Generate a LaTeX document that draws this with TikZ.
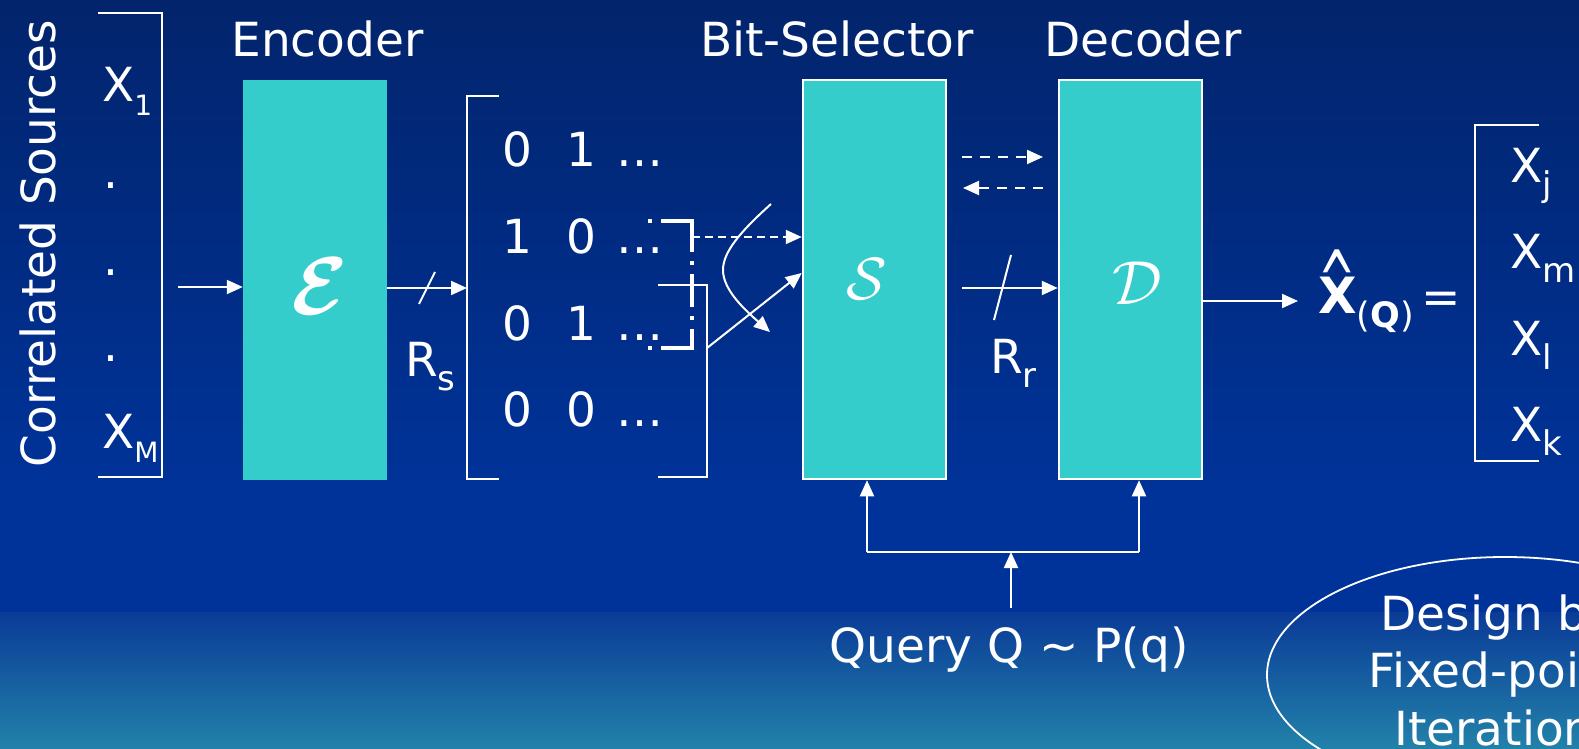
\documentclass[tikz,border=0pt]{standalone}
\usepackage{fontspec}
\setmainfont{DejaVu Sans}
\usepackage{amsmath,bm}
\usepackage{graphicx}
\usetikzlibrary{arrows.meta,calc}

\definecolor{navytop}{HTML}{02246C}
\definecolor{bluemid}{HTML}{003399}
\definecolor{bluelow}{HTML}{0A3B97}
\definecolor{tealbot}{HTML}{2282AA}
\definecolor{blockteal}{HTML}{35CCCC}

% lowered subscript: #1 = size in pt, #2 = text
\newcommand{\lowsub}[2]{\raisebox{-14pt}{\fontsize{#1}{#1}\selectfont #2}}

\begin{document}
\begin{tikzpicture}[x=1pt,y=-1pt,
  lbl/.style={text=white,inner sep=0pt,font=\fontsize{47}{56}\selectfont},
  blockfill/.style={fill=blockteal,inner sep=0pt,minimum width=144pt,minimum height=400pt},
  framed/.style={fill=blockteal,draw=white,line width=2.5pt,inner sep=0pt,
                 minimum width=143pt,minimum height=399pt},
  wire/.style={draw=white,line width=2pt},
  arr/.style={wire,-{Triangle[length=16pt,width=14pt]}},
  fbarr/.style={arr,dash pattern=on 10pt off 8pt},
  selarr/.style={arr,dash pattern=on 8pt off 5pt},
  dashdot/.style={draw=white,line width=4pt,dash pattern=on 33pt off 9pt on 4pt off 9pt}
]
\useasboundingbox (0,0) rectangle (1579,749);
\clip (0,0) rectangle (1579,749);

% background
\fill[top color=navytop,bottom color=bluemid] (0,0) rectangle (1579,490);
\fill[bluemid] (0,489) rectangle (1579,613);
\fill[top color=bluelow,bottom color=tealbot] (0,612) rectangle (1579,749);

% sources
\node[lbl,rotate=90,anchor=base] (corr) at (55,243.5) {Correlated Sources};
\draw[wire] (98,13) -- (162,13) -- (162,477) -- (98,477);
\node[lbl,anchor=base west] (x1) at (102,102) {X\lowsub{28}{1}};
\node[lbl,anchor=base] (d1) at (111,188) {.};
\node[lbl,anchor=base] (d2) at (111,275) {.};
\node[lbl,anchor=base] (d3) at (111,361) {.};
\node[lbl,anchor=base west] (xM) at (102,448) {X\lowsub{28}{M}};

% encoder
\node[lbl,anchor=base] (enctitle) at (327.5,57) {Encoder};
\node[blockfill] (enc) at (315,280) {};
\node[lbl] (encsym) at (320,286) {\scalebox{3.3}{\Huge$\bm{\mathcal{E}}$}};
\coordinate (srcOut) at (178,287);
\draw[arr] (srcOut) -- (srcOut -| enc.west);

% bit matrix
\coordinate (matL) at (467,288);
\draw[arr] (matL -| enc.east) -- (matL);
\draw[wire] (435,272) -- (419,304);
\node[lbl,anchor=base west] (rs) at (405,376) {R\lowsub{34}{s}};
\draw[wire] (499,96) -- (467,96) -- (467,479) -- (499,479);
\foreach \r/\a/\b/\y in {1/0/1/166, 2/1/0/253, 3/0/1/340, 4/0/0/426}{
  \node[lbl,anchor=base] (m\r a) at (517,\y) {\a};
  \node[lbl,anchor=base] (m\r b) at (581,\y) {\b};
  \node[lbl,anchor=base] (m\r c) at (640,\y) {…};
}
% selected rows
\draw[dashdot] (694,221) -- (642,221);
\draw[dashdot] (692,219) -- (692,348);
\draw[dashdot] (694,348) -- (642,348);
\draw[wire] (658,285) -- (707,285) -- (707,477) -- (658,477);

% bit-selector
\node[lbl,anchor=base] (seltitle) at (837,57) {Bit-Selector};
\node[framed] (sel) at (874.5,279.5) {};
\node[lbl] (selsym) at (867,279) {\scalebox{2.4}{\Huge$\mathcal{S}$}};
\coordinate (dashSrc) at (692,237);
\draw[selarr] (dashSrc) -- (sel.west |- dashSrc);
\coordinate (brk) at (707,348);
\draw[arr] (brk) -- ($(sel.west)+(0,-6.5)$);
\coordinate (cvA) at (771,204);
\coordinate (cvB) at (770,332);
\draw[arr] (cvA) .. controls (740,232) and (723,252) .. (723,270)
                 .. controls (723,290) and (745,310) .. (cvB);

% decoder
\node[lbl,anchor=base] (dectitle) at (1143,57) {Decoder};
\node[framed] (dec) at (1130.5,279.5) {};
\node[lbl] (decsym) at (1137,283) {\scalebox{2.5}{\Huge$\mathcal{D}$}};
\coordinate (fbA) at (962,157);
\coordinate (fbB) at (1043,157);
\coordinate (fbC) at (1043,188);
\coordinate (fbD) at (963,188);
\draw[fbarr] (fbA) -- (fbB);
\draw[fbarr] (fbC) -- (fbD);
\coordinate (rrS) at (962,288);
\draw[arr] (rrS) -- (rrS -| dec.west);
\draw[wire] (1011,255) -- (994,320);
\node[lbl,anchor=base west] (rr) at (990,373) {R\lowsub{34}{r}};

% output
\coordinate (outE) at (1298,301);
\draw[arr] (dec.east |- outE) -- (outE);
\node[lbl,anchor=base] (hat) at (1337,267)
  {\raisebox{-44pt}[18pt][0pt]{\scalebox{0.95}[1.8]{\textasciicircum}}};
\node[lbl,anchor=base west] (xhat) at (1318,313)
  {\fontsize{50}{56}\selectfont\bfseries X\lowsub{35}{{\mdseries(}Q{\mdseries)}}};
\node[lbl,anchor=base] (eq) at (1441,313) {=};
\draw[wire] (1539,125) -- (1475,125) -- (1475,461) -- (1539,461);
\node[lbl,anchor=base west] (xj) at (1510,182) {X\lowsub{34}{j}};
\node[lbl,anchor=base west] (xm) at (1510,268) {X\lowsub{34}{m}};
\node[lbl,anchor=base west] (xl) at (1510,355) {X\lowsub{34}{l}};
\node[lbl,anchor=base west] (xk) at (1510,441) {X\lowsub{34}{k}};

% query
\coordinate (qS) at (867,552);
\coordinate (qD) at (1139,552);
\coordinate (qM) at (1011,552);
\coordinate (qB) at (1011,608);
\draw[wire] (qS) -- (qD);
\draw[arr] (qS) -- (qS |- sel.south);
\draw[arr] (qD) -- (qD |- dec.south);
\draw[arr] (qB) -- (qM);
\node[lbl,anchor=base] (query) at (1009,662) {Query Q \textasciitilde{} P(q)};

% design note
\draw[white,line width=1.8pt] (1505,675) ellipse [x radius=238,y radius=118];
\node[lbl,anchor=base] (des1) at (1498,630) {Design by};
\node[lbl,anchor=base] (des2) at (1498,687) {Fixed-point};
\node[lbl,anchor=base] (des3) at (1494,745) {Iteration};
\end{tikzpicture}
\end{document}
